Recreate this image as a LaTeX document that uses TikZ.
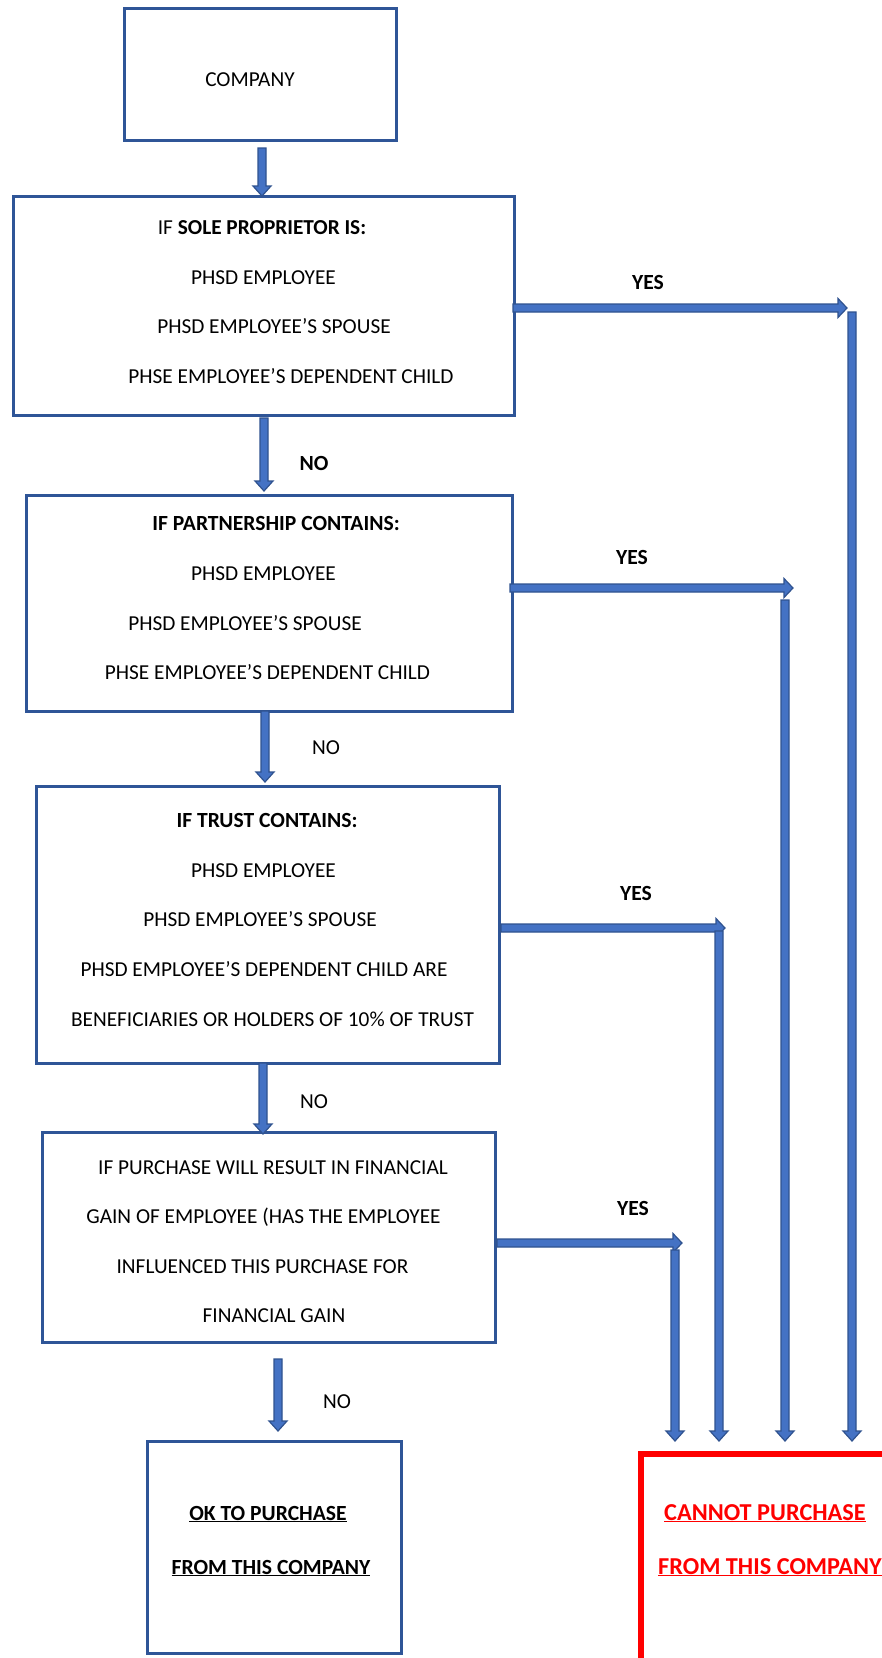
\documentclass[tikz,border=0pt]{standalone}
\usepackage{fontspec}
\setmainfont{Carlito}
\usetikzlibrary{calc}
\definecolor{boxblue}{HTML}{2F5597}
\definecolor{arrfill}{HTML}{4472C4}
\definecolor{arrline}{HTML}{2F528F}
\definecolor{stopred}{HTML}{FF0000}
\newcommand{\myvarrow}[2]{\path[blockarrow] let \p1=(#1), \p2=(#2) in
  (\x1-4pt,\y1) -- (\x1+4pt,\y1) -- (\x1+4pt,\y2+10pt) -- (\x1+9pt,\y2+10pt) --
  (\x1,\y2) -- (\x1-9pt,\y2+10pt) -- (\x1-4pt,\y2+10pt) -- cycle;}
\newcommand{\myharrow}[2]{\path[blockarrow] let \p1=(#1), \p2=(#2) in
  (\x1,\y1+4pt) -- (\x2-9pt,\y1+4pt) -- (\x2-9pt,\y1+9.5pt) -- (\x2,\y1) --
  (\x2-9pt,\y1-9.5pt) -- (\x2-9pt,\y1-4pt) -- (\x1,\y1-4pt) -- cycle;}
\begin{document}
\begin{tikzpicture}[x=1pt,y=-1pt,
  box/.style={draw=boxblue, line width=2.5pt, anchor=north west, inner sep=0pt},
  stopbox/.style={draw=stopred, line width=6pt, anchor=north west, inner sep=0pt},
  txt/.style={font=\fontsize{21.3}{26}\selectfont, inner sep=0pt, text height=14pt, text depth=0pt, anchor=center},
  lbl/.style={txt, font=\fontsize{21.6}{26}\selectfont\bfseries},
  redtxt/.style={txt, text=stopred, font=\fontsize{24.3}{28}\selectfont\bfseries},
  blockarrow/.style={fill=arrfill, draw=arrline, line width=1.2pt, line join=miter}]
\useasboundingbox (0,0) rectangle (882,1658);
\clip (0,0) rectangle (882,1658);
\fill[white] (0,0) rectangle (882,1658);

% boxes
\node[box, minimum width=272pt, minimum height=132pt] (b1) at (123,7) {};
\node[box, minimum width=501pt, minimum height=219pt] (b2) at (12,195) {};
\node[box, minimum width=486pt, minimum height=216pt] (b3) at (25,494) {};
\node[box, minimum width=463pt, minimum height=277pt] (b4) at (35,785) {};
\node[box, minimum width=453pt, minimum height=210pt] (b5) at (41,1131) {};
\node[box, minimum width=254pt, minimum height=212pt] (b6) at (146,1440) {};
\node[stopbox, minimum width=300pt, minimum height=300pt] (b7) at (638,1451) {};

% texts
\node[txt] (t1) at (250,79) {COMPANY};

\node[txt] (t2a) at (262,227) {IF \textbf{SOLE PROPRIETOR IS:}};
\node[txt] (t2b) at (263.5,277) {PHSD EMPLOYEE};
\node[txt] (t2c) at (274,326) {PHSD EMPLOYEE’S SPOUSE};
\node[txt] (t2d) at (291,376) {PHSE EMPLOYEE’S DEPENDENT CHILD};

\node[lbl] (t3a) at (276,523) {IF PARTNERSHIP CONTAINS:};
\node[txt] (t3b) at (263.5,573) {PHSD EMPLOYEE};
\node[txt] (t3c) at (245,623) {PHSD EMPLOYEE’S SPOUSE};
\node[txt] (t3d) at (267.5,672) {PHSE EMPLOYEE’S DEPENDENT CHILD};

\node[lbl] (t4a) at (267,820) {IF TRUST CONTAINS:};
\node[txt] (t4b) at (263.5,870) {PHSD EMPLOYEE};
\node[txt] (t4c) at (260,919) {PHSD EMPLOYEE’S SPOUSE};
\node[txt] (t4d) at (264,969) {PHSD EMPLOYEE’S DEPENDENT CHILD ARE};
\node[txt] (t4e) at (272.5,1019) {BENEFICIARIES OR HOLDERS OF 10\% OF TRUST};

\node[txt] (t5a) at (273,1167) {IF PURCHASE WILL RESULT IN FINANCIAL};
\node[txt] (t5b) at (263.5,1216) {GAIN OF EMPLOYEE (HAS THE EMPLOYEE};
\node[txt] (t5c) at (262.5,1266) {INFLUENCED THIS PURCHASE FOR};
\node[txt] (t5d) at (274,1315) {FINANCIAL GAIN};

\node[lbl] (t6a) at (268,1513) {\underline{OK TO PURCHASE}};
\node[lbl] (t6b) at (271,1567) {\underline{FROM THIS COMPANY}};

\node[redtxt] (t7a) at (765,1513) {\underline{CANNOT PURCHASE}};
\node[redtxt] (t7b) at (770,1567) {\underline{FROM THIS COMPANY}};

% labels
\node[lbl] (y1) at (648,282) {YES};
\node[lbl] (y2) at (632,557) {YES};
\node[lbl] (y3) at (636,893) {YES};
\node[lbl] (y4) at (633,1208) {YES};
\node[lbl] (n1) at (314,463) {NO};
\node[txt] (n2) at (326,747) {NO};
\node[txt] (n3) at (314,1101) {NO};
\node[txt] (n4) at (337,1401) {NO};

% connector end points
\coordinate (d1s) at (262,148);  \coordinate (d1e) at (262,196);
\coordinate (d2s) at (264,418);  \coordinate (d2e) at (264,491);
\coordinate (d3s) at (265,711);  \coordinate (d3e) at (265,782);
\coordinate (d4s) at (263,1063); \coordinate (d4e) at (263,1134);
\coordinate (d5s) at (278,1359); \coordinate (d5e) at (278,1431);

\coordinate (h1s) at (513,308);  \coordinate (h1e) at (847,308);
\coordinate (h2s) at (510,588);  \coordinate (h2e) at (793,588);
\coordinate (h3s) at (501,928);  \coordinate (h3e) at (725,928);
\coordinate (h4s) at (497,1243); \coordinate (h4e) at (682,1243);

\coordinate (v1s) at (852,312);  \coordinate (v1e) at (852,1441);
\coordinate (v2s) at (785,600);  \coordinate (v2e) at (785,1441);
\coordinate (v3s) at (719,931);  \coordinate (v3e) at (719,1441);
\coordinate (v4s) at (675,1250); \coordinate (v4e) at (675,1441);

\myvarrow{d1s}{d1e}
\myvarrow{d2s}{d2e}
\myvarrow{d3s}{d3e}
\myvarrow{d4s}{d4e}
\myvarrow{d5s}{d5e}
\myharrow{h1s}{h1e}
\myharrow{h2s}{h2e}
\myharrow{h3s}{h3e}
\myharrow{h4s}{h4e}
\myvarrow{v1s}{v1e}
\myvarrow{v2s}{v2e}
\myvarrow{v3s}{v3e}
\myvarrow{v4s}{v4e}
\end{tikzpicture}
\end{document}
